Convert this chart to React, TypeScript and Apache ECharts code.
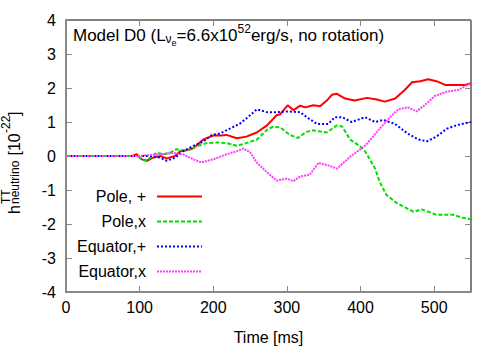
import React, { useEffect, useRef } from "react";
import * as echarts from "echarts";

// ---- data (time in ms, strain in 1e-22) ----
const timePoleP = [0, 90, 96, 103, 110, 118, 128, 137, 148, 155, 164, 173, 186, 200, 210, 218, 232, 245, 259, 273, 286, 291, 301, 309, 318, 325, 336, 345, 355, 361, 368, 379, 392, 409, 422, 433, 447, 460, 470, 481, 492, 503, 515, 531, 542, 550];
const hPoleP = [0, 0, 0.05, -0.1, -0.14, -0.05, 0, -0.07, 0, 0.14, 0.17, 0.23, 0.48, 0.6, 0.6, 0.62, 0.52, 0.57, 0.69, 0.9, 1.2, 1.23, 1.49, 1.35, 1.48, 1.43, 1.49, 1.46, 1.65, 1.8, 1.83, 1.69, 1.63, 1.71, 1.66, 1.6, 1.69, 1.94, 2.17, 2.2, 2.26, 2.2, 2.09, 2.09, 2.09, 2.14];

const timePoleX = [0, 95, 100, 107, 115, 123, 132, 141, 150, 159, 168, 178, 191, 205, 218, 232, 245, 259, 273, 281, 291, 304, 315, 325, 334, 354, 368, 375, 386, 399, 406, 410, 420, 426, 435, 449, 463, 472, 483, 492, 503, 526, 537, 550];
const hPoleX = [0, 0, -0.05, -0.14, -0.05, 0.1, 0.05, 0.09, 0.2, 0.16, 0.19, 0.29, 0.38, 0.4, 0.38, 0.3, 0.38, 0.48, 0.77, 0.86, 0.84, 0.62, 0.53, 0.69, 0.76, 0.69, 0.9, 0.87, 0.48, 0.29, 0.14, 0, -0.38, -0.76, -1.14, -1.38, -1.54, -1.64, -1.57, -1.64, -1.73, -1.73, -1.81, -1.86];

const timeEqP = [0, 110, 120, 128, 137, 148, 159, 173, 186, 198, 209, 223, 236, 247, 259, 273, 286, 300, 318, 327, 341, 356, 365, 375, 388, 406, 420, 431, 447, 464, 478, 490, 503, 517, 531, 550];
const hEqP = [0, 0, -0.02, -0.05, -0.14, -0.05, 0.14, 0.3, 0.42, 0.62, 0.66, 0.81, 0.95, 1.14, 1.37, 1.29, 1.29, 1.31, 1.29, 1.14, 0.94, 0.94, 1.14, 1.14, 1.0, 1.14, 1.0, 1.06, 0.94, 0.66, 0.49, 0.43, 0.57, 0.8, 0.91, 1.0];

const timeEqX = [0, 100, 115, 128, 145, 159, 173, 184, 200, 218, 232, 241, 250, 259, 273, 286, 300, 309, 318, 331, 343, 358, 368, 386, 406, 426, 440, 451, 464, 476, 488, 501, 517, 532, 550];
const hEqX = [0, 0, 0.03, 0.05, 0.09, 0.05, -0.1, -0.19, -0.1, 0.05, 0.14, 0.22, 0.11, -0.19, -0.48, -0.72, -0.67, -0.74, -0.6, -0.55, -0.2, -0.29, -0.37, -0.02, 0.3, 0.8, 1.14, 1.37, 1.43, 1.31, 1.51, 1.77, 1.89, 1.94, 2.14];

const seriesNames = ["Pole, +", "Pole,x", "Equator,+", "Equator,x"];

const FONT = "'Liberation Sans', Arial, Helvetica, sans-serif";

function zip(t: number[], h: number[]) {
  return t.map((v, i) => [v, h[i]]);
}

export default function App() {
  const ref = useRef<HTMLDivElement>(null);

  useEffect(() => {
    if (!ref.current) return;
    const chart = echarts.init(ref.current, null, { renderer: "svg" });

    const styles = [
      { color: "#ff0000", width: 2, type: "solid" as any },
      { color: "#00e000", width: 2, type: [4, 2] as any },
      { color: "#0000ff", width: 2, type: [2, 2] as any },
      { color: "#ff3cff", width: 2, type: [2, 1] as any },
    ];
    const datasets = [
      zip(timePoleP, hPoleP),
      zip(timePoleX, hPoleX),
      zip(timeEqP, hEqP),
      zip(timeEqX, hEqX),
    ];
    const legendCenters = [198, 223, 248, 273];

    const tick = { show: true, inside: true, length: 6, lineStyle: { color: "#888", width: 1 } };

    const option: any = {
      animation: false,
      backgroundColor: "#fff",
      textStyle: { fontFamily: FONT },
      grid: {
        left: 66,
        right: 29,
        top: 20,
        bottom: 50,
        show: true,
        borderColor: "#000",
        borderWidth: 1,
        backgroundColor: "transparent",
      },
      legend: seriesNames.map((n, i) => ({
        data: [n],
        orient: "vertical",
        right: 297,
        top: legendCenters[i] - 9.5,
        padding: 0,
        align: "right",
        itemWidth: 45,
        itemHeight: 10,
        selectedMode: false,
        itemStyle: { opacity: 0 },
        textStyle: { fontSize: 16, color: "#000", fontFamily: FONT, padding: [0, 6, 0, 0] },
      })),
      xAxis: [
        {
          type: "value",
          min: 0,
          max: 550,
          interval: 100,
          position: "bottom",
          axisLine: { show: true, onZero: false, lineStyle: { color: "#888", width: 2 } },
          axisTick: tick,
          axisLabel: {
            fontSize: 16,
            color: "#000",
            margin: 7,
            fontFamily: FONT,
            showMaxLabel: false,
            formatter: (v: number) => (v % 100 === 0 ? String(v) : ""),
          },
          splitLine: { show: false },
          name: "Time [ms]",
          nameLocation: "middle",
          nameGap: 37,
          nameTextStyle: { fontSize: 16, color: "#000", fontFamily: FONT },
        },
        {
          type: "value",
          min: 0,
          max: 550,
          interval: 100,
          position: "top",
          axisLine: { show: false, onZero: false },
          axisTick: tick,
          axisLabel: { show: false },
          splitLine: { show: false },
        },
      ],
      yAxis: [
        {
          type: "value",
          min: -4,
          max: 4,
          interval: 1,
          position: "left",
          axisLine: { show: true, onZero: false, lineStyle: { color: "#888", width: 2 } },
          axisTick: tick,
          axisLabel: { fontSize: 16, color: "#000", margin: 10, fontFamily: FONT },
          splitLine: { show: false },
        },
        {
          type: "value",
          min: -4,
          max: 4,
          interval: 1,
          position: "right",
          axisLine: { show: false, onZero: false },
          axisTick: tick,
          axisLabel: { show: false },
          splitLine: { show: false },
        },
      ],
      graphic: [
        {
          type: "text",
          left: 73,
          top: 23,
          z: 10,
          style: {
            text: "{n|Model D0 (L}{s|ν}{ss|e}{n|=6.6x10}{p|52}{n|erg/s, no rotation)}",
            fill: "#000",
            rich: {
              n: { fontSize: 17, fontFamily: FONT, color: "#000" },
              s: { fontSize: 12, fontFamily: FONT, color: "#000", padding: [7, 0, 0, 0] },
              ss: { fontSize: 9, fontFamily: FONT, color: "#000", padding: [14, 0, 0, 0] },
              p: { fontSize: 12, fontFamily: FONT, color: "#000", padding: [0, 0, 13, 0] },
            },
          },
        },
        {
          type: "group",
          x: 22,
          y: 214,
          rotation: Math.PI / 2,
          z: 10,
          children: [
            { type: "text", x: 0, y: 0, style: { text: "h", font: `16px ${FONT}`, fill: "#000", verticalAlign: "bottom" } },
            { type: "text", x: 10, y: -10, style: { text: "TT", font: `12px ${FONT}`, fill: "#000", verticalAlign: "bottom" } },
            { type: "text", x: 10, y: -1, style: { text: "neutrino", font: `12px ${FONT}`, fill: "#000", verticalAlign: "bottom" } },
            { type: "text", x: 54, y: 0, style: { text: " [10", font: `16px ${FONT}`, fill: "#000", verticalAlign: "bottom" } },
            { type: "text", x: 81, y: -10, style: { text: "-22", font: `12px ${FONT}`, fill: "#000", verticalAlign: "bottom" } },
            { type: "text", x: 98, y: 0, style: { text: "]", font: `16px ${FONT}`, fill: "#000", verticalAlign: "bottom" } },
          ],
        },
      ],
      series: seriesNames.map((n, i) => ({
        name: n,
        type: "line",
        xAxisIndex: 0,
        yAxisIndex: 0,
        data: datasets[i],
        symbol: "none",
        showSymbol: false,
        smooth: false,
        lineStyle: styles[i],
        itemStyle: { color: styles[i].color },
        emphasis: { disabled: true },
      })),
    };

    chart.setOption(option);
    return () => chart.dispose();
  }, []);

  return (
    <div
      ref={ref}
      style={{ position: "fixed", left: 0, top: 0, width: 500, height: 350 }}
    />
  );
}
